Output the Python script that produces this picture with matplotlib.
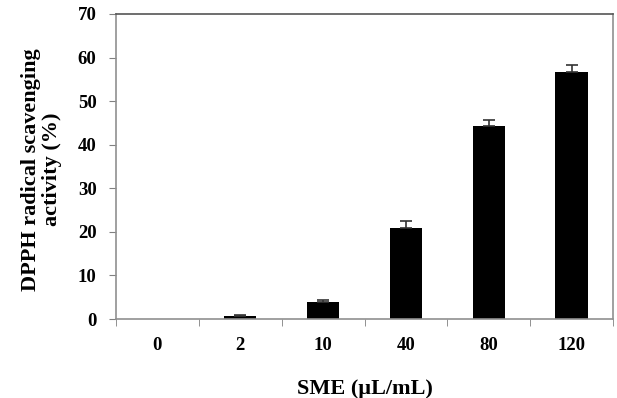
import matplotlib
matplotlib.use("Agg")
from matplotlib import pyplot as plt
import numpy as np

concentrations = ['0', '2', '10', '40', '80', '120']
activity = [0.0, 0.7, 3.8, 21.0, 44.3, 56.7]
errors = [0.0, 0.2, 0.6, 1.4, 1.4, 1.6]

plt.rcParams['font.family'] = ['Liberation Serif', 'DejaVu Serif']
plt.rcParams['font.weight'] = 'bold'

fig = plt.figure(figsize=(6.17, 3.98), dpi=100)
ax = fig.add_axes([116/617, 1 - 319/398, (613-116)/617, (319-14)/398])

x = np.arange(len(concentrations))
act = np.array(activity)
err = np.array(errors)
ax.bar(x, act, width=0.39, color='black', linewidth=0)

# only upper error bars, skip the empty control
m = err > 0
ax.errorbar(x[m], act[m], yerr=[np.zeros(m.sum()), err[m]], fmt='none',
            ecolor='#333333', elinewidth=1.2, capsize=4, capthick=1.2)

ax.set_xlim(-0.5, len(concentrations) - 0.5)
ax.set_ylim(0, 70)
ax.set_yticks(range(0, 71, 10))
ax.set_xticks(x)
ax.set_xticklabels(concentrations, fontsize=13.5, fontweight='bold')
ax.set_xticks(np.arange(-0.5, len(concentrations)), minor=True)
ax.tick_params(axis='x', which='major', length=0, pad=13)
ax.tick_params(axis='x', which='minor', length=5, color='#808080', direction='out')
ax.tick_params(axis='y', length=5, color='#808080', labelsize=13.5, pad=9)
for t in ax.get_yticklabels():
    t.set_fontweight('bold')

for s in ['left', 'bottom', 'right']:
    ax.spines[s].set_color('#909090')
ax.spines['top'].set_color('#555555')
for s in ax.spines.values():
    s.set_linewidth(1.2)

ax.set_xlabel('SME (µL/mL)', fontsize=16, fontweight='bold', labelpad=18)
ax.set_ylabel('DPPH radical scavenging\nactivity (%)', fontsize=16,
              fontweight='bold', linespacing=1.12)
ax.yaxis.set_label_coords(-0.108, 0.49)

fig.savefig('out.png', dpi=100)
